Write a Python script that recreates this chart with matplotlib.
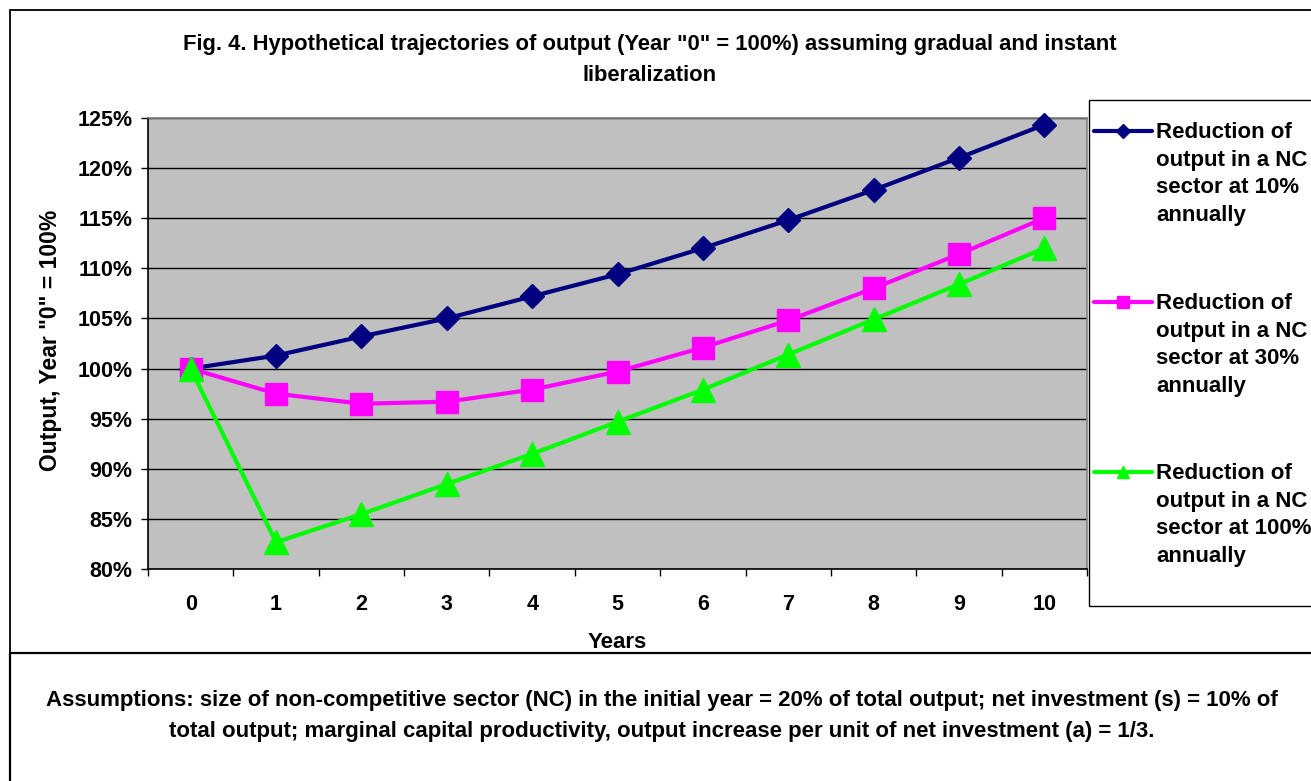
import matplotlib
matplotlib.use("Agg")
import matplotlib.pyplot as plt
from matplotlib.lines import Line2D
from matplotlib.patches import Rectangle
from matplotlib.ticker import FuncFormatter, MultipleLocator, FixedLocator

plt.rcParams['font.family'] = ['Liberation Sans', 'DejaVu Sans']
plt.rcParams['font.weight'] = 'bold'

years = list(range(0, 11))
series_10 = [100.0, 101.3, 103.2, 105.0, 107.2, 109.4, 112.0, 114.8, 117.8, 121.0, 124.3]
series_30 = [100.0, 97.5, 96.5, 96.7, 97.9, 99.7, 102.1, 104.8, 108.0, 111.4, 115.0]
series_100 = [100.0, 82.7, 85.5, 88.5, 91.5, 94.7, 97.9, 101.4, 104.9, 108.4, 112.0]
labels = ["Reduction of\noutput in a NC\nsector at 10%\nannually",
          "Reduction of\noutput in a NC\nsector at 30%\nannually",
          "Reduction of\noutput in a NC\nsector at 100%\nannually"]
colors = ["#000080", "#FF00FF", "#00FF00"]
markers = ["D", "s", "^"]
msizes = [12, 16, 17]

title = 'Fig. 4. Hypothetical trajectories of output (Year "0" = 100%) assuming gradual and instant\nliberalization'
ylabel = 'Output, Year "0" = 100%'
xlabel = 'Years'
note = ("Assumptions: size of non-competitive sector (NC) in the initial year = 20% of total output; net investment (s) = 10% of\n"
        "total output; marginal capital productivity, output increase per unit of net investment (a) = 1/3.")

W, H = 1311, 781
fig = plt.figure(figsize=(W / 100, H / 100), dpi=100)
fig.patch.set_facecolor('white')

def fx(x):
    return x / W

def fy(y):
    return 1 - y / H

# outer frames
fig.add_artist(Rectangle((fx(10), fy(653)), fx(1400) - fx(10), fy(10) - fy(653),
                         transform=fig.transFigure, fill=False, edgecolor='#000000', lw=1.3))
fig.add_artist(Rectangle((fx(10), fy(800)), fx(1400) - fx(10), fy(653) - fy(800),
                         transform=fig.transFigure, fill=False, edgecolor='#000000', lw=1.6))

left, right, top, bottom = 148, 1087, 117.7, 569.3
ax = fig.add_axes([fx(left), fy(bottom), fx(right) - fx(left), fy(top) - fy(bottom)])
ax.set_facecolor('#C0C0C0')
ax.set_xlim(-0.5, 10.5)
ax.set_ylim(80, 125)

ax.yaxis.set_major_locator(MultipleLocator(5))
ax.yaxis.set_major_formatter(FuncFormatter(lambda v, p: f"{v:.0f}%"))
ax.grid(axis='y', color='#000000', lw=1.0)
ax.set_axisbelow(True)

ax.xaxis.set_major_locator(FixedLocator(years))
ax.set_xticklabels([str(y) for y in years])
ax.xaxis.set_minor_locator(FixedLocator([y + 0.5 for y in [-1] + years]))
ax.tick_params(axis='x', which='major', length=0, pad=18, labelsize=15.5)
ax.tick_params(axis='x', which='minor', length=5, width=1, direction='out', color='black')
ax.tick_params(axis='y', which='major', length=5, width=1, direction='out', pad=6, labelsize=15.5)

for lab in ax.get_xticklabels() + ax.get_yticklabels():
    lab.set_fontweight('bold')

for s in ['left', 'bottom']:
    ax.spines[s].set_color('black')
    ax.spines[s].set_linewidth(1.2)
for s in ['top', 'right']:
    ax.spines[s].set_color('#808080')
    ax.spines[s].set_linewidth(1.2)

for data, c, m, ms in zip([series_10, series_30, series_100], colors, markers, msizes):
    ax.plot(years, data, color=c, lw=3, marker=m, markersize=ms,
            markerfacecolor=c, markeredgecolor=c, clip_on=False, zorder=3)

# texts
fig.text(fx(650), fy(60), title, ha='center', va='center', fontsize=15.8,
         fontweight='bold', linespacing=1.6)
fig.text(fx(51), fy(340), ylabel, ha='center', va='center', rotation=90,
         fontsize=16.5, fontweight='bold')
fig.text(fx(617), fy(642), xlabel, ha='center', va='center', fontsize=16, fontweight='bold')
fig.text(fx(662), fy(716), note, ha='center', va='center', fontsize=16,
         fontweight='bold', linespacing=1.6)

# legend box
fig.add_artist(Rectangle((fx(1089), fy(606)), fx(1400) - fx(1089), fy(100) - fy(606),
                         transform=fig.transFigure, fill=True, facecolor='white',
                         edgecolor='#000000', lw=1.0))
entry_tops = [131, 302, 472]
lmsizes = [7, 9, 9]
for y0, lab, c, m, ms in zip(entry_tops, labels, colors, markers, lmsizes):
    fig.add_artist(Line2D([fx(1094), fx(1152)], [fy(y0), fy(y0)], transform=fig.transFigure,
                          color=c, lw=3, solid_capstyle='round'))
    fig.add_artist(Line2D([fx(1123)], [fy(y0)], transform=fig.transFigure, color=c,
                          marker=m, markersize=ms, markerfacecolor=c, markeredgecolor=c))
    fig.text(fx(1156), fy(y0 - 9), lab, ha='left', va='top', fontsize=16,
             fontweight='bold', linespacing=1.42)

fig.savefig('out.png', dpi=100)
